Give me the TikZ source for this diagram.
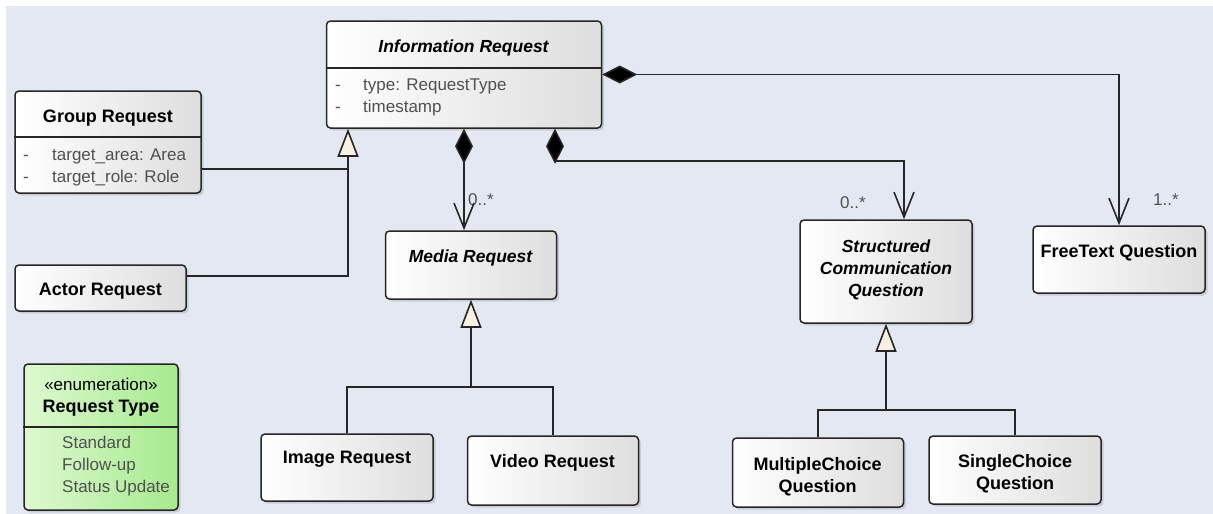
\documentclass[tikz,border=0pt]{standalone}
\usepackage{fontspec}
\setmainfont{Liberation Sans}
\usetikzlibrary{arrows.meta,shadows}
\definecolor{bgblue}{HTML}{E4E8F2}
\definecolor{attrgray}{HTML}{505050}
\definecolor{genfill}{HTML}{F8F0E3}
\definecolor{enumlight}{HTML}{DDF9D0}
\definecolor{enumdark}{HTML}{A6EA8E}
\newcommand{\umlsize}{\fontsize{17}{22}\selectfont}
\newcommand{\umlbold}{\fontsize{18}{22}\selectfont\bfseries}
\tikzset{
  umlclass/.style={draw=black!85, line width=1.5pt, rounded corners=4pt,
    left color=white, right color=black!13, inner sep=0pt,
    drop shadow={shadow xshift=2.5pt, shadow yshift=-2.5pt, opacity=0.25}},
  umlenum/.style={umlclass, left color=enumlight, right color=enumdark},
  divider/.style={draw=black!85, line width=1.5pt},
  cname/.style={font=\umlbold, anchor=base, inner sep=0pt},
  aname/.style={font=\fontsize{17.5}{22}\selectfont\bfseries\itshape, anchor=base, inner sep=0pt},
  attr/.style={font=\umlsize, text=attrgray, anchor=base west, inner sep=0pt},
  mult/.style={font=\umlsize, text=attrgray, anchor=base west, inner sep=0pt},
  conn/.style={draw=black!85, line width=1.6pt},
  comp/.style={conn, {Diamond[length=35pt,width=18pt,fill=black]}-{Straight Barb[length=25pt,width=20pt]}},
  gen/.style={conn, -{Triangle[open,length=28pt,width=21pt,fill=genfill]}}
}

\begin{document}
\begin{tikzpicture}[x=1pt,y=-1pt]
  \useasboundingbox (0,0) rectangle (1213,514);
  \fill[bgblue] (6,6) rectangle (1213,514);

  % class boxes
  \node[umlclass, minimum width=275, minimum height=107] (info) at (464,74.5) {};
  \node[umlclass, minimum width=186, minimum height=102] (group) at (108,142) {};
  \node[umlclass, minimum width=171, minimum height=46] (actor) at (100.5,288) {};
  \node[umlenum, minimum width=154, minimum height=146] (reqtype) at (101,437) {};
  \node[umlclass, minimum width=171, minimum height=68] (media) at (471,265) {};
  \node[umlclass, minimum width=172, minimum height=67] (image) at (347,467.5) {};
  \node[umlclass, minimum width=171, minimum height=69] (video) at (553,470.5) {};
  \node[umlclass, minimum width=172, minimum height=103] (scq) at (886,271.5) {};
  \node[umlclass, minimum width=172, minimum height=67] (free) at (1119,259.5) {};
  \node[umlclass, minimum width=171, minimum height=69] (multi) at (818,472.5) {};
  \node[umlclass, minimum width=172, minimum height=68] (single) at (1015,470) {};

  \draw[divider] ([yshift=6.5pt]info.west) -- ([yshift=6.5pt]info.east);
  \draw[divider] ([yshift=5pt]group.west) -- ([yshift=5pt]group.east);
  \draw[divider] ([yshift=10pt]reqtype.west) -- ([yshift=10pt]reqtype.east);

  % names and attributes
  \node[aname] (infoname) at (463.5,52) {Information Request};
  \node[attr] (infotype) at (335,90) {\makebox[28pt][l]{-}type: RequestType};
  \node[attr] (infotime) at (335,112) {\makebox[28pt][l]{-}timestamp};
  \node[cname] (groupname) at (108,122) {Group Request};
  \node[attr] (grouparea) at (23,160) {\makebox[29pt][l]{-}target\_area: Area};
  \node[attr] (grouprole) at (23,182) {\makebox[29pt][l]{-}target\_role: Role};
  \node[cname] (actorname) at (100.5,295) {Actor Request};
  \node[font=\umlsize, anchor=base, inner sep=0pt] (enumstereo) at (101,390) {«enumeration»};
  \node[cname] (enumname) at (101,412) {Request Type};
  \node[font=\umlsize, text=attrgray, align=left, anchor=north west, inner sep=0pt] (enumvals) at (62,435.6) {Standard\\Follow-up\\Status Update};
  \node[aname] (medianame) at (470.5,262) {Media Request};
  \node[cname] (imagename) at (347,463) {Image Request};
  \node[cname] (videoname) at (552.5,467) {Video Request};
  \node[font=\fontsize{17.5}{22}\selectfont\bfseries\itshape, align=center, anchor=north, inner sep=0pt] (scqname) at (886,239.6) {Structured\\Communication\\Question};
  \node[cname] (freename) at (1119,257) {FreeText Question};
  \node[font=\umlbold, align=center, anchor=north, inner sep=0pt] (multiname) at (817.5,457.2) {MultipleChoice\\Question};
  \node[font=\umlbold, align=center, anchor=north, inner sep=0pt] (singlename) at (1015,454.2) {SingleChoice\\Question};

  % multiplicities
  \node[mult] (mmedia) at (468,205) {0..*};
  \node[mult] (mscq) at (840,208) {0..*};
  \node[mult] (mfree) at (1153,205) {1..*};

  % connectors
  \coordinate (mediaj) at (471,387);
  \coordinate (scqj) at (886,410);
  \draw[gen] ([yshift=12pt]actor.east) -| ([xshift=-116pt]info.south);
  \draw[conn] ([yshift=-27pt]group.east) -- ++(147,0);
  \draw[conn] (image.north) |- (mediaj) -| (video.north);
  \draw[gen] (mediaj) -- (media.south);
  \draw[conn] (multi.north) |- (scqj) -| (single.north);
  \draw[gen] (scqj) -- (scq.south);
  \draw[comp] (info.south) -- (info.south |- media.north);
  \draw[comp] ([xshift=91pt]info.south) -- ++(0,32) -| ([xshift=18pt]scq.north);
  \draw[comp] (info.east) -| (free.north);
\end{tikzpicture}
\end{document}
